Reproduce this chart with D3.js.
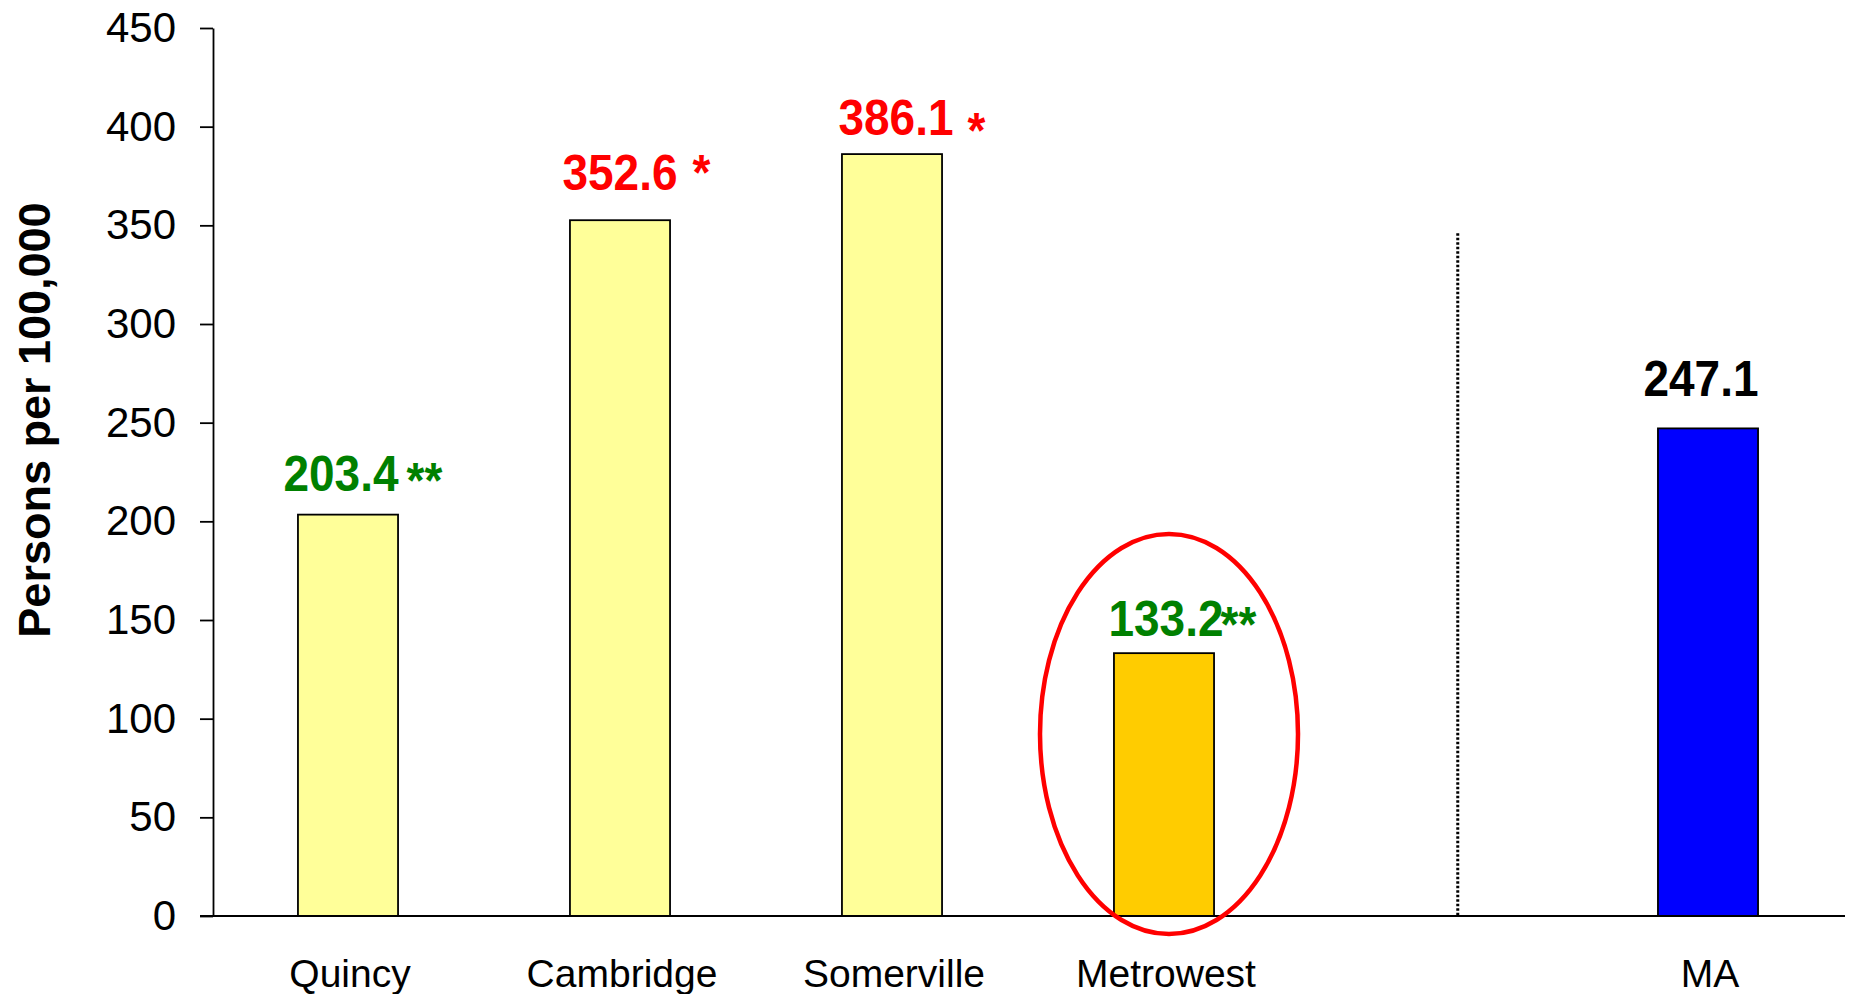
<!DOCTYPE html>
<meta charset="utf-8">
<script src="https://d3js.org/d3.v7.min.js"></script>
<style>
  body { margin: 0; background: #fff; }
  text { font-family: "Liberation Sans", Arial, sans-serif; }
</style>
<svg id="chart" width="1851" height="994"></svg>
<script>

// data
var categories = ["Quincy", "Cambridge", "Somerville", "Metrowest", "MA"];
var rates = [203.4, 352.6, 386.1, 133.2, 247.1];
var marks = ["**", "*", "*", "**", ""];
var yTicks = [0, 50, 100, 150, 200, 250, 300, 350, 400, 450];

// slots along the x axis (one empty slot before MA)
var slots = ["Quincy", "Cambridge", "Somerville", "Metrowest", "spacer", "MA"];

// styling
var barColors = ["#FFFF99", "#FFFF99", "#FFFF99", "#FFCC00", "#0000FF"];
var labelColors = ["#008000", "#FF0000", "#FF0000", "#008000", "#000000"];
var labelGap = [24, 30, 19, 17, 32];   // bar top to label baseline
var labelDx = [-7, 0, 4, 2, -7];
var markGap = [8, 15, 14, -3, 0];
var markDrop = [7, 0, 13, 6, 0];

var svg = d3.select("#chart");

var x = d3.scaleBand()
  .domain(slots)
  .range([212, 1844])
  .padding(0);

var y = d3.scaleLinear()
  .domain([0, 450])
  .range([916, 28]);

var barW = x.step() * 0.368;

// y axis
var yAxis = svg.append("g")
  .attr("transform", "translate(213,0)")
  .call(d3.axisLeft(y)
    .tickValues(yTicks)
    .tickSize(13)
    .tickSizeOuter(0)
    .tickPadding(24));
yAxis.select(".domain").attr("stroke", "#000").attr("stroke-width", 1.8);
yAxis.selectAll(".tick line").attr("stroke", "#000").attr("stroke-width", 1.8);
yAxis.selectAll(".tick text")
  .attr("fill", "#000")
  .style("font-size", "42px")
  .style("font-family", "'Liberation Sans', Arial, sans-serif");

// axis title
svg.append("text")
  .attr("transform", "translate(50," + ((y(0) + y(450)) / 2 - 52) + ") rotate(-90)")
  .attr("text-anchor", "middle")
  .style("font-size", "45px")
  .style("font-weight", "bold")
  .text("Persons per 100,000");

// bars
var rows = categories.map(function(c, i) {
  return { name: c, value: rates[i], i: i };
});

svg.append("g")
  .selectAll("rect")
  .data(rows)
  .enter()
  .append("rect")
    .attr("x", function(d) { return x(d.name) + (x.step() - barW) / 2; })
    .attr("y", function(d) { return y(d.value); })
    .attr("width", barW)
    .attr("height", function(d) { return y(0) - y(d.value); })
    .attr("fill", function(d) { return barColors[d.i]; })
    .attr("stroke", "#000")
    .attr("stroke-width", 1.8);

// x axis line
svg.append("line")
  .attr("x1", 200).attr("x2", x.range()[1] + 1)
  .attr("y1", y(0)).attr("y2", y(0))
  .attr("stroke", "#000")
  .attr("stroke-width", 1.8);

// category labels
svg.append("g")
  .selectAll("text")
  .data(rows)
  .enter()
  .append("text")
    .attr("x", function(d) { return x(d.name) + x.step() / 2 + 2; })
    .attr("y", 987)
    .attr("text-anchor", "middle")
    .style("font-size", "39px")
    .text(function(d) { return d.name; });

// value labels
var labels = svg.append("g")
  .selectAll("g")
  .data(rows)
  .enter()
  .append("g")
    .attr("transform", function(d) {
      var cx = x(d.name) + x.step() / 2 + labelDx[d.i];
      return "translate(" + cx + "," + (y(d.value) - labelGap[d.i]) + ") scale(0.92,1)";
    })
    .attr("fill", function(d) { return labelColors[d.i]; })
    .style("font-weight", "bold")
    .style("font-size", "50px");

labels.append("text")
  .attr("class", "num")
  .attr("text-anchor", "middle")
  .text(function(d) { return d.value.toFixed(1); });

labels.append("text")
  .attr("x", function(d) {
    var w = d3.select(this.parentNode).select(".num").node().getComputedTextLength();
    return w / 2 + markGap[d.i] / 0.92;
  })
  .attr("y", function(d) { return markDrop[d.i]; })
  .text(function(d) { return marks[d.i]; });

// dotted divider before MA
svg.append("line")
  .attr("x1", x("spacer") + x.step() * 0.58)
  .attr("x2", x("spacer") + x.step() * 0.58)
  .attr("y1", y(346))
  .attr("y2", y(0))
  .attr("stroke", "#000")
  .attr("stroke-width", 3)
  .attr("stroke-dasharray", "2.5,2");

// highlight ring round Metrowest
var ry = 200;
svg.append("ellipse")
  .attr("cx", x("Metrowest") + x.step() / 2 + 5)
  .attr("cy", y(0) + 18 - ry)
  .attr("rx", 129)
  .attr("ry", ry)
  .attr("fill", "none")
  .attr("stroke", "#FF0000")
  .attr("stroke-width", 4.5);

</script>
